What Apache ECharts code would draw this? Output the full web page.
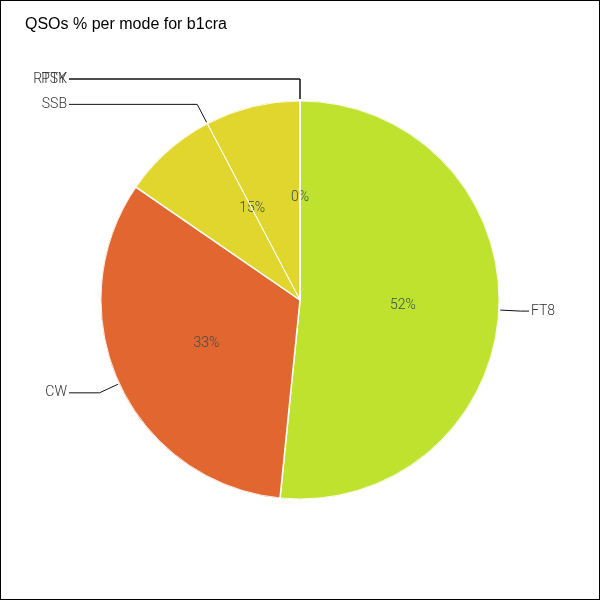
<!DOCTYPE html>
<html>
<head>
<meta charset="utf-8">
<script src="https://cdn.jsdelivr.net/npm/echarts@6/dist/echarts.min.js"></script>
<style>
html,body{margin:0;padding:0;background:#fff;}
#frame{width:600px;height:600px;box-sizing:border-box;border:1px solid #000;position:relative;}
#chart{position:absolute;left:-1px;top:-1px;width:600px;height:600px;}
</style>
</head>
<body>
<div id="frame"><div id="chart"></div></div>
<script>
var titleText = 'QSOs % per mode for b1cra';
var modes = ['FT8', 'CW', 'SSB', 'RTTY', 'PSK'];
var percents = [51.6, 33.0, 15.4, 0, 0];
var modeColors = ['#bfe22f', '#e2662f', '#e0d62e', '#e0d62e', '#e0d62e'];

var data = modes.map(function (m, i) {
  return { name: m, value: percents[i], itemStyle: { color: modeColors[i] } };
});

// the reference shows a thin white divider through the middle of the SSB slice
var ssbIdx = modes.indexOf('SSB');
var before = 0;
for (var i = 0; i < ssbIdx; i++) before += percents[i];
var after = 0;
for (var j = ssbIdx + 1; j < percents.length; j++) after += percents[j];
var dividerData = [
  { value: before + percents[ssbIdx] / 2 },
  { value: percents[ssbIdx] / 2 + after }
];

var chart = echarts.init(document.getElementById('chart'), null, { renderer: 'canvas' });
var CX = 300, CY = 300, R = 200;

chart.setOption({
  animation: false,
  title: {
    text: titleText,
    left: 20,
    top: 12,
    textStyle: { fontFamily: 'Liberation Sans', fontSize: 16, fontWeight: 'normal', color: '#000' }
  },
  series: [
    {
      type: 'pie',
      center: [CX, CY],
      radius: R,
      startAngle: 90,
      clockwise: true,
      avoidLabelOverlap: false,
      data: data,
      itemStyle: { borderColor: '#fff', borderWidth: 1.5 },
      label: {
        show: true,
        position: 'outside',
        formatter: '{b}',
        fontFamily: 'Roboto',
        fontWeight: 300,
        fontSize: 14,
        color: '#333'
      },
      labelLine: {
        show: true,
        length: 21,
        length2: 20,
        lineStyle: { color: '#111', width: 1 }
      },
      labelLayout: function (p) {
        var pts = p.labelLinePoints;
        if (!pts) return {};
        pts = pts.map(function (q) { return [q[0], q[1]]; });
        var left = pts[0][0] < CX + 1;
        var endX = left ? 69 : 529;
        pts[2][0] = endX;
        pts[2][1] = pts[1][1];
        return {
          x: left ? endX - 2 : endX + 2,
          y: pts[1][1],
          align: left ? 'right' : 'left',
          verticalAlign: 'middle',
          labelLinePoints: pts
        };
      }
    },
    {
      type: 'pie',
      center: [CX, CY],
      radius: R,
      startAngle: 90,
      clockwise: true,
      silent: true,
      percentPrecision: 0,
      avoidLabelOverlap: false,
      data: modes.map(function (m, i) { return { name: m, value: percents[i] }; }),
      itemStyle: { color: 'rgba(0,0,0,0)', borderWidth: 0 },
      label: {
        show: true,
        position: 'inside',
        formatter: '{d}%',
        fontFamily: 'Roboto',
        fontWeight: 300,
        fontSize: 14,
        color: '#35504f'
      },
      labelLine: { show: false }
    },
    {
      type: 'pie',
      center: [CX, CY],
      radius: R - 1,
      startAngle: 90,
      clockwise: true,
      silent: true,
      z: 3,
      data: dividerData,
      itemStyle: { color: 'rgba(0,0,0,0)', borderColor: 'rgba(255,255,255,0.9)', borderWidth: 1 },
      label: { show: false },
      labelLine: { show: false }
    }
  ]
});
</script>
</body>
</html>
